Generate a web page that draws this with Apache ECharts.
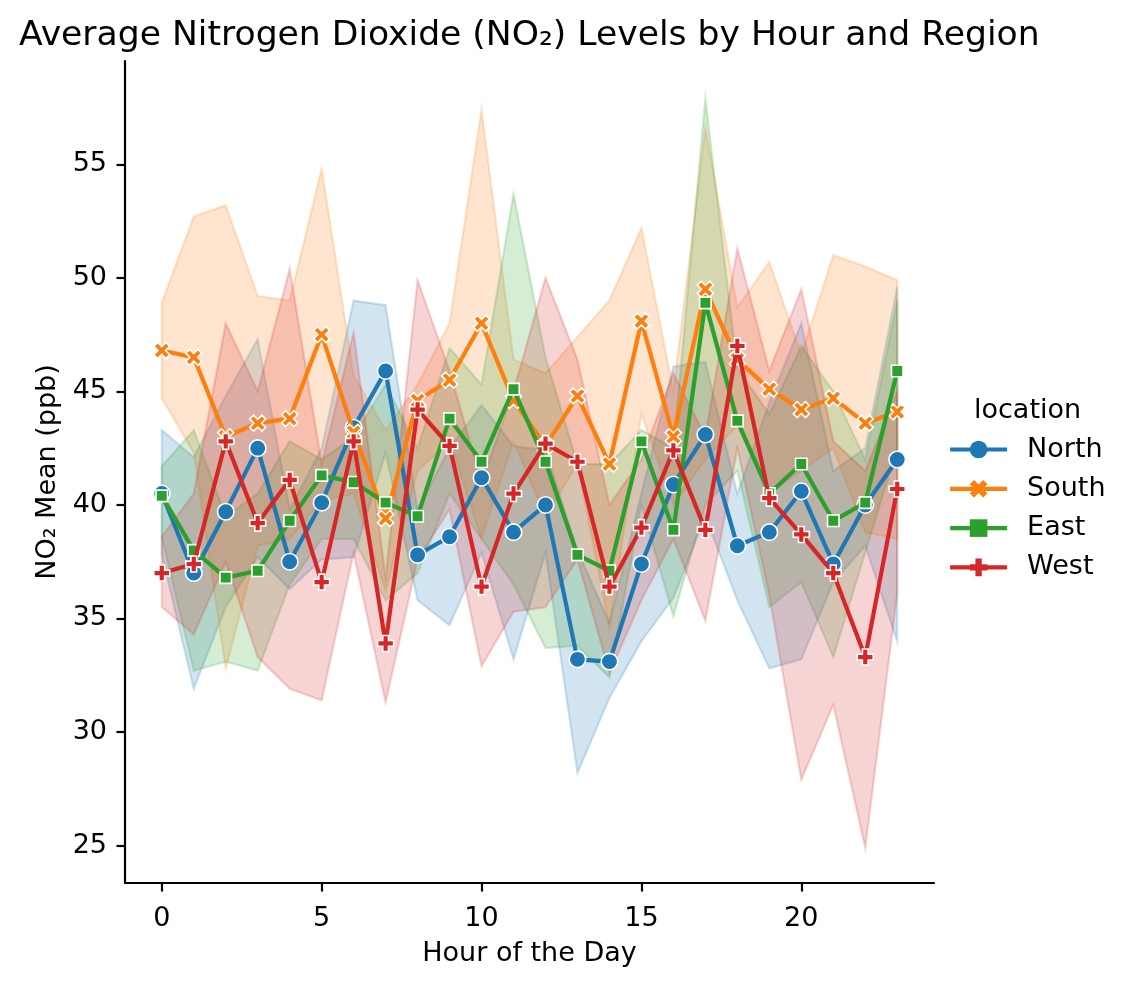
<!DOCTYPE html>
<html>
<head>
<meta charset="utf-8">
<script src="https://cdn.jsdelivr.net/npm/echarts@6/dist/echarts.min.js"></script>
<style>html,body{margin:0;padding:0;background:#fff;}#c{width:1125px;height:983px;}</style>
</head>
<body>
<div id="c"></div>
<script>
const hours = [0,1,2,3,4,5,6,7,8,9,10,11,12,13,14,15,16,17,18,19,20,21,22,23];
const locations = ['North','South','East','West'];
const xTicks = [0,5,10,15,20];
const yTicks = [25,30,35,40,45,50,55];

const northMean = [40.5,37.0,39.7,42.5,37.5,40.1,43.4,45.9,37.8,38.6,41.2,38.8,40.0,33.2,33.1,37.4,40.9,43.1,38.2,38.8,40.6,37.4,40.0,42.0];
const northLow  = [37.8,31.9,35.5,37.7,36.3,37.6,37.7,42.3,35.8,34.7,37.9,33.2,37.9,28.2,31.5,34.0,35.9,39.5,35.8,32.8,33.2,36.6,38.2,34.0];
const northHigh = [43.3,42.1,44.8,47.3,39.8,42.5,49.0,48.8,39.8,42.5,44.4,42.6,42.4,38.0,34.8,40.5,46.1,46.3,40.5,44.5,48.0,41.5,42.5,49.6];

const southMean = [46.8,46.5,43.0,43.6,43.8,47.5,43.2,39.4,44.6,45.5,48.0,44.6,42.6,44.8,41.8,48.1,43.0,49.5,46.4,45.1,44.2,44.7,43.6,44.1];
const southLow  = [44.7,42.3,32.8,38.2,38.5,40.2,40.5,36.2,41.5,42.8,38.5,42.8,39.5,41.8,34.6,44.0,40.0,42.0,43.5,40.5,41.5,42.5,38.8,38.5];
const southHigh = [48.9,52.7,53.2,49.2,49.0,54.8,45.7,43.3,45.3,48.0,57.4,46.4,45.8,47.4,49.0,52.2,45.0,56.6,48.7,50.7,46.6,51.0,50.5,49.9];

const eastMean = [40.4,38.0,36.8,37.1,39.3,41.3,41.0,40.1,39.5,43.8,41.9,45.1,41.9,37.8,37.1,42.8,38.9,48.9,43.7,40.5,41.8,39.3,40.1,45.9];
const eastLow  = [38.6,32.7,33.1,32.7,36.5,38.5,38.5,35.8,37.0,40.5,38.5,36.5,33.7,33.8,32.4,40.0,35.1,40.0,41.5,35.5,36.6,33.3,37.9,42.5];
const eastHigh = [41.7,43.3,39.5,40.5,42.8,42.0,43.0,45.3,42.5,46.9,45.3,53.7,46.5,41.8,41.8,43.3,42.5,57.9,46.0,44.0,47.0,45.0,42.0,49.0];

const westMean = [37.0,37.4,42.8,39.2,41.1,36.6,42.8,33.9,44.2,42.6,36.4,40.5,42.7,41.9,36.4,39.0,42.4,38.9,47.0,40.3,38.7,37.0,33.3,40.7];
const westLow  = [35.5,34.3,37.5,33.3,31.9,31.4,37.9,31.3,37.6,39.8,32.9,35.3,35.5,37.6,32.6,35.8,38.5,34.9,42.5,36.0,27.9,31.2,24.9,36.1];
const westHigh = [38.6,40.5,48.0,45.0,50.4,41.8,47.6,36.8,49.9,45.9,41.0,45.0,50.0,46.4,40.0,42.0,45.8,43.0,51.3,45.9,49.5,42.8,41.5,45.0];

const means = [northMean, southMean, eastMean, westMean];
const lows = [northLow, southLow, eastLow, westLow];
const highs = [northHigh, southHigh, eastHigh, westHigh];
const colors = ['#1f77b4','#ff7f0e','#2ca02c','#d62728'];
const symbols = [
  'circle',
  'path://M0,2.4 L2.4,0 L5,2.6 L7.6,0 L10,2.4 L7.4,5 L10,7.6 L7.6,10 L5,7.4 L2.4,10 L0,7.6 L2.6,5 Z',
  'rect',
  'path://M3.2,0 L6.8,0 L6.8,3.2 L10,3.2 L10,6.8 L6.8,6.8 L6.8,10 L3.2,10 L3.2,6.8 L0,6.8 L0,3.2 L3.2,3.2 Z'
];
const symbolSizes = [16.5, 16, 11.5, 16];
const FONT = 'DejaVu Sans';

const series = [];
locations.forEach((loc, i) => {
  series.push({
    name: loc + ' CI', type: 'custom', silent: true, z: 1, clip: true,
    data: hours.map((h, k) => [h, lows[i][k], highs[i][k]]),
    encode: { x: 0, y: [1, 2] },
    renderItem: function (params, api) {
      if (params.dataIndex !== 0) return null;
      const pts = [];
      for (let k = 0; k < hours.length; k++) pts.push(api.coord([hours[k], highs[i][k]]));
      for (let k = hours.length - 1; k >= 0; k--) pts.push(api.coord([hours[k], lows[i][k]]));
      return {
        type: 'polygon',
        shape: { points: pts },
        style: { fill: colors[i], stroke: colors[i], lineWidth: 2.2, opacity: 0.2, lineJoin: 'miter' }
      };
    }
  });
});
locations.forEach((loc, i) => {
  series.push({
    name: loc, type: 'line', z: 3 + i,
    data: hours.map((h, k) => [h, means[i][k]]),
    symbol: symbols[i], symbolSize: symbolSizes[i], showSymbol: true,
    lineStyle: { color: colors[i], width: 4.2 },
    itemStyle: { color: colors[i], borderColor: '#fff', borderWidth: 1.6 }
  });
});

const chart = echarts.init(document.getElementById('c'), null, { renderer: 'canvas' });
chart.setOption({
  animation: false,
  backgroundColor: '#fff',
  color: colors,
  title: {
    text: 'Average Nitrogen Dioxide (NO₂) Levels by Hour and Region',
    left: 19, top: 19, padding: 0,
    textStyle: { fontFamily: FONT, fontSize: 34.6, fontWeight: 'normal', color: '#000' }
  },
  graphic: [{
    type: 'text', left: 974, top: 397,
    style: { text: 'location', fontFamily: FONT, fontSize: 27, fill: '#000' }
  }],
  legend: {
    data: locations, orient: 'vertical', left: 948, top: 436, padding: 0,
    itemWidth: 57, itemHeight: 22, itemGap: 12.3,
    lineStyle: { width: 4.2 },
    itemStyle: { borderWidth: 0 },
    textStyle: { fontFamily: FONT, fontSize: 27, color: '#000', padding: [0, 0, 0, 15] }
  },
  grid: { left: 125, right: 191, top: 61, bottom: 100, containLabel: false },
  xAxis: {
    type: 'value', min: -1.15, max: 24.15,
    name: 'Hour of the Day', nameLocation: 'middle', nameGap: 57,
    nameTextStyle: { fontFamily: FONT, fontSize: 27, color: '#000' },
    axisLine: { show: true, onZero: false, lineStyle: { color: '#000', width: 2.2 } },
    axisTick: { show: true, length: 8.5, customValues: xTicks, lineStyle: { color: '#000', width: 2.2 } },
    axisLabel: { customValues: xTicks, margin: 22, fontFamily: FONT, fontSize: 27, color: '#000' },
    splitLine: { show: false }
  },
  yAxis: {
    type: 'value', min: 23.35, max: 59.55,
    name: 'NO₂ Mean (ppb)', nameLocation: 'middle', nameGap: 64,
    nameTextStyle: { fontFamily: FONT, fontSize: 27, color: '#000' },
    axisLine: { show: true, onZero: false, lineStyle: { color: '#000', width: 2.2 } },
    axisTick: { show: true, length: 8.5, customValues: yTicks, lineStyle: { color: '#000', width: 2.2 } },
    axisLabel: { customValues: yTicks, margin: 18, fontFamily: FONT, fontSize: 27, color: '#000' },
    splitLine: { show: false }
  },
  series: series
});
</script>
</body>
</html>
